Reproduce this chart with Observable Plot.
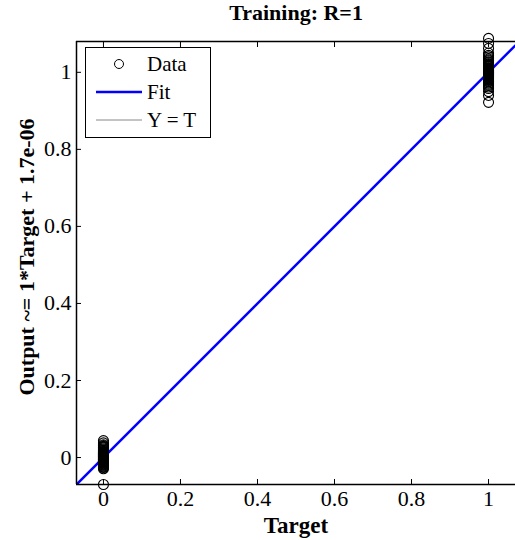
<!DOCTYPE html>
<html><head><meta charset="utf-8">
<script src="https://cdn.jsdelivr.net/npm/d3@7"></script>
<script src="https://cdn.jsdelivr.net/npm/@observablehq/plot@0.6"></script>
<style>
body{margin:0;background:#fff;font-family:"Liberation Serif","Times New Roman",serif;}
#wrap{position:relative;width:515px;height:540px;}
#legend{position:absolute;left:85px;top:47px;width:124px;height:89px;border:1px solid #000;background:#fff;font-size:21px;}
#legend .row{position:absolute;left:0;height:28px;width:124px;}
#legend svg{position:absolute;left:8px;top:0;}
#legend span{position:absolute;left:61px;top:2px;line-height:24px;}
</style></head>
<body><div id="wrap"></div>
<script>
const title = "Training: R=1";
const xLabel = "Target";
const yLabel = "Output ~= 1*Target + 1.7e-06";
const xDomain = [-0.07, 1.07];
const yDomain = [-0.07, 1.08];
const tickValues = [0, 0.2, 0.4, 0.6, 0.8, 1];
const tickLabels = ["0", "0.2", "0.4", "0.6", "0.8", "1"];
const outputsAt0 = [0.044, 0.038, 0.033, 0.031, 0.029, 0.027, 0.025, 0.022, 0.020, 0.018, 0.016, 0.015, 0.013, 0.012, 0.011, 0.010, 0.009, 0.008, 0.007, 0.006, 0.005, 0.004, 0.003, 0.002, 0.001, 0.000, -0.001, -0.002, -0.003, -0.004, -0.005, -0.006, -0.007, -0.008, -0.009, -0.010, -0.011, -0.012, -0.013, -0.014, -0.016, -0.017, -0.019, -0.020, -0.022, -0.024, -0.026, -0.029, -0.07];
const outputsAt1 = [1.088, 1.075, 1.062, 1.05, 1.044, 1.04, 1.035, 1.032, 1.03, 1.027, 1.025, 1.022, 1.02, 1.018, 1.016, 1.014, 1.012, 1.010, 1.009, 1.007, 1.006, 1.005, 1.004, 1.003, 1.002, 1.001, 1.0, 0.999, 0.998, 0.997, 0.996, 0.995, 0.994, 0.992, 0.991, 0.989, 0.988, 0.986, 0.985, 0.983, 0.981, 0.979, 0.977, 0.975, 0.972, 0.969, 0.966, 0.962, 0.958, 0.95, 0.94, 0.922];
const fitSlope = 1, fitIntercept = 1.7e-06;

const points = [
  ...outputsAt0.map(o => ({t: 0, o})),
  ...outputsAt1.map(o => ({t: 1, o}))
];
const fitLine = xDomain.map(x => ({x, y: fitSlope * x + fitIntercept}));
const idLine = xDomain.map(x => ({x, y: x}));
const fmt = d => tickLabels[tickValues.indexOf(d)];

const chart = Plot.plot({
  width: 515, height: 540,
  marginLeft: 76, marginRight: 0, marginTop: 41, marginBottom: 56,
  style: {fontFamily: '"Liberation Serif","Times New Roman",serif', fontSize: "22px", background: "#fff", color: "#000"},
  x: {domain: xDomain},
  y: {domain: yDomain},
  marks: [
    Plot.line(idLine, {x: "x", y: "y", stroke: "#888", strokeWidth: 1, clip: true}),
    Plot.line(fitLine, {x: "x", y: "y", stroke: "#0000ff", strokeWidth: 2.5, clip: true}),
    Plot.dot(points, {x: "t", y: "o", r: 5, stroke: "#000", fill: "none", strokeWidth: 1.1}),
    Plot.axisX(tickValues, {anchor: "bottom", tickSize: -5, tickFormat: fmt, tickPadding: 11, fontSize: 22, label: null}),
    Plot.axisX(tickValues, {anchor: "top", tickSize: -5, tickFormat: () => "", label: null}),
    Plot.axisY(tickValues, {anchor: "left", tickSize: -5, tickFormat: fmt, tickPadding: 10, fontSize: 22, label: null}),
    Plot.ruleX([xDomain[0]], {stroke: "#000", strokeWidth: 1.5}),
    Plot.ruleY([yDomain[0]], {stroke: "#000", strokeWidth: 1.5}),
    Plot.ruleY([yDomain[1]], {stroke: "#000", strokeWidth: 1.5}),
    Plot.text([title], {frameAnchor: "top", dy: -37, fontSize: 22, fontWeight: "bold", text: d => d}),
    Plot.text([xLabel], {frameAnchor: "bottom", dy: 48, fontSize: 23, fontWeight: "bold", text: d => d}),
    Plot.text([yLabel], {frameAnchor: "left", textAnchor: "middle", dx: -50, dy: -6, rotate: -90, fontSize: 22, fontWeight: "bold", text: d => d})
  ]
});
const wrap = document.getElementById("wrap");
wrap.appendChild(chart);

const legend = document.createElement("div");
legend.id = "legend";
legend.innerHTML = `
<div class="row" style="top:2px"><svg width="50" height="28"><circle cx="25" cy="14" r="4.5" fill="none" stroke="#000"/></svg><span>Data</span></div>
<div class="row" style="top:30px"><svg width="50" height="28"><line x1="2" x2="48" y1="14" y2="14" stroke="#0000ff" stroke-width="2.5"/></svg><span>Fit</span></div>
<div class="row" style="top:58px"><svg width="50" height="28"><line x1="2" x2="48" y1="14" y2="14" stroke="#888" stroke-width="1"/></svg><span>Y = T</span></div>`;
wrap.appendChild(legend);
</script></body></html>
